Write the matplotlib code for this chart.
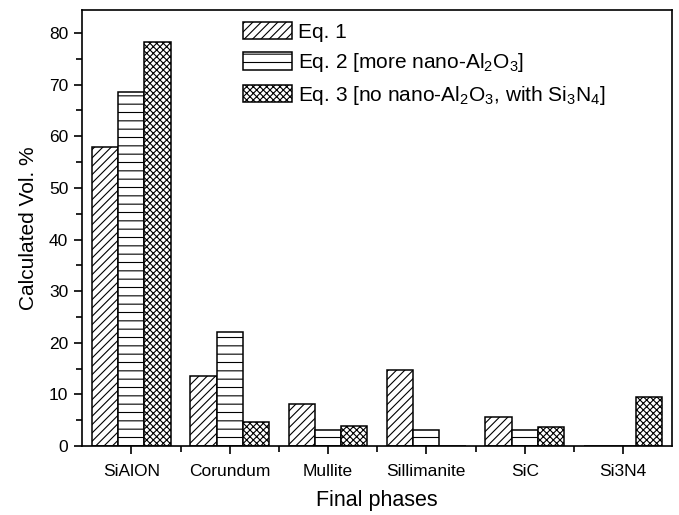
import numpy as np
import matplotlib.pyplot as plt
from matplotlib.ticker import MultipleLocator, FixedLocator

plt.rcParams['font.family'] = ['Liberation Sans', 'DejaVu Sans']
plt.rcParams['mathtext.fontset'] = 'custom'
plt.rcParams['mathtext.rm'] = 'Liberation Sans'
plt.rcParams['hatch.linewidth'] = 0.8

phases = ["SiAlON", "Corundum", "Mullite", "Sillimanite", "SiC", "Si3N4"]
eq1 = [58.0, 13.6, 8.1, 14.7, 5.6, 0.0]
eq2 = [68.6, 22.1, 3.1, 3.1, 3.1, 0.0]
eq3 = [78.2, 4.6, 3.9, 0.0, 3.6, 9.5]
labels = ["Eq. 1",
          "Eq. 2 [more nano-Al$_\\mathrm{2}$O$_\\mathrm{3}$]",
          "Eq. 3 [no nano-Al$_\\mathrm{2}$O$_\\mathrm{3}$, with Si$_\\mathrm{3}$N$_\\mathrm{4}$]"]

fig = plt.figure(figsize=(6.79, 5.15), dpi=100)
ax = fig.add_axes([0.121, 0.134, 0.869, 0.847])

x = np.arange(len(phases))
w = 0.267
hatches = ['////', '--', 'xxxxx']
for i, (vals, h, lab) in enumerate(zip([eq1, eq2, eq3], hatches, labels)):
    ax.bar(x + (i - 1) * w, vals, w, color='white', edgecolor='black',
           linewidth=1.1, hatch=h, label=lab)

ax.set_xlim(-0.5, 5.5)
ax.set_ylim(0, 84.5)
ax.set_xticks(x)
ax.set_xticklabels(phases)
ax.xaxis.set_minor_locator(FixedLocator(x[:-1] + 0.5))
ax.yaxis.set_major_locator(MultipleLocator(10))
ax.yaxis.set_minor_locator(MultipleLocator(5))
ax.tick_params(axis='both', which='major', direction='out', length=6, width=1.2,
               labelsize=12.5)
ax.tick_params(axis='x', which='major', pad=7)
ax.tick_params(axis='y', which='major', pad=4)
ax.tick_params(axis='both', which='minor', direction='out', length=4, width=1.2)
for s in ax.spines.values():
    s.set_linewidth(1.2)

ax.set_xlabel("Final phases", fontsize=15.5, labelpad=8)
ax.set_ylabel("Calculated Vol. %", fontsize=15, labelpad=8)

ax.legend(loc='upper left', bbox_to_anchor=(243 / 679, 1 - 22 / 515),
          bbox_transform=fig.transFigure, frameon=False,
          fontsize=15, handlelength=2.35, handleheight=0.9,
          handletextpad=0.3, labelspacing=0.45, borderaxespad=0, borderpad=0)

fig.savefig("out.png", dpi=100)
